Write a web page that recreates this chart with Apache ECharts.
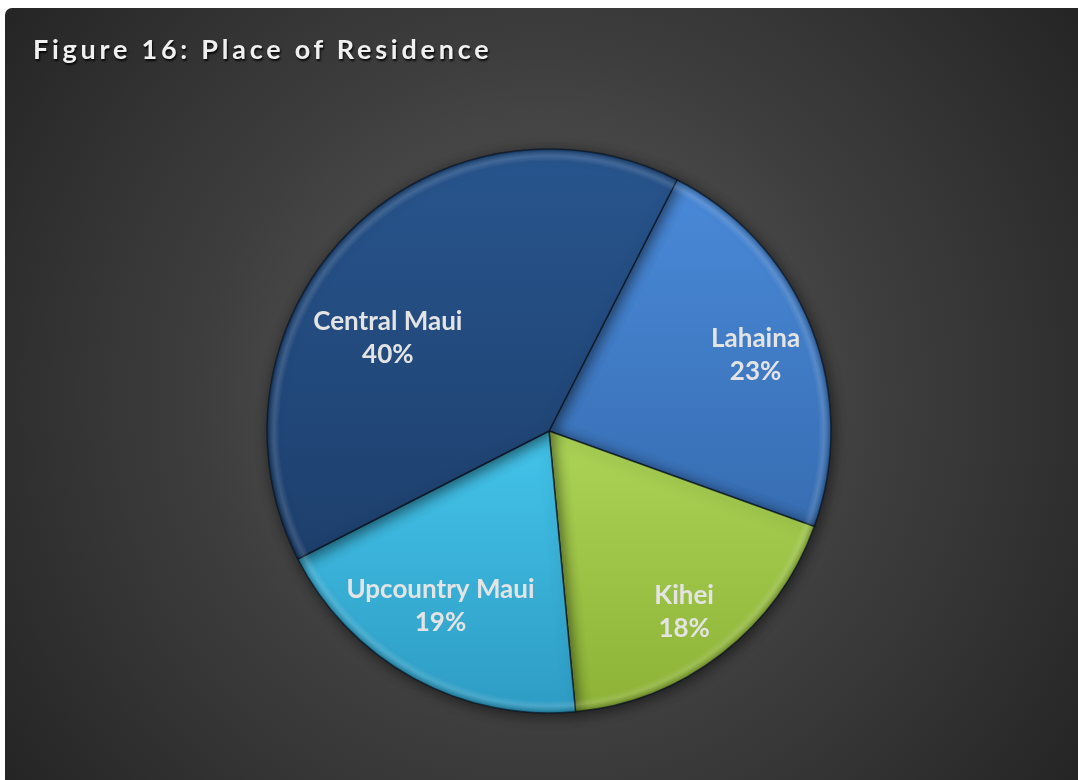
<!DOCTYPE html>
<html>
<head>
<meta charset="utf-8">
<title>Figure 16: Place of Residence</title>
<script src="https://cdn.jsdelivr.net/npm/echarts@6/dist/echarts.min.js"></script>
<style>
  html, body { margin: 0; padding: 0; background: #ffffff; }
  #wrap { position: relative; width: 1078px; height: 780px; }
  #chart { position: absolute; left: 0; top: 0; width: 1078px; height: 780px; }
  #title {
    position: absolute; left: 33px; top: 35px;
    font-family: Lato, "Open Sans", sans-serif; font-weight: bold;
    font-size: 27px; line-height: 27px; letter-spacing: 3.75px;
    color: #f0f0f0; text-shadow: 1px 2px 2px rgba(0,0,0,0.85);
    white-space: nowrap; pointer-events: none;
  }
</style>
</head>
<body>
<div id="wrap">
  <div id="chart"></div>
  <div id="title">Figure 16: Place of Residence</div>
</div>
<script>
// Place of residence shares (percent), clockwise from the Lahaina slice
const categories = ['Lahaina', 'Kihei', 'Upcountry Maui', 'Central Maui'];
const shares = [23, 18, 19, 40];

// Slice colours: [top, bottom] of each slice's vertical gradient
const sliceColors = {
  'Lahaina':        ['#4a8ad9', '#376db2'],
  'Kihei':          ['#acd457', '#8db236'],
  'Upcountry Maui': ['#44c4ea', '#2e9cc4'],
  'Central Maui':   ['#28558e', '#1d3f6c']
};

// Pie geometry (pixels)
const CX = 549, CY = 431, R = 282;
const START_ANGLE = 63;                 // ECharts: degrees counter-clockwise from 3 o'clock
const FROM_TOP = 90 - START_ANGLE;      // same angle measured clockwise from 12 o'clock

// Label placement inside each slice: fraction of radius and angular nudge (deg)
const labelPlace = {
  'Lahaina':        { r: 0.78, da: 1.5 },
  'Kihei':          { r: 0.80, da: 1 },
  'Upcountry Maui': { r: 0.73, da: 3 },
  'Central Maui':   { r: 0.66, da: -15 }
};

const total = shares.reduce((a, b) => a + b, 0);

function midAngle(i) {
  let before = 0;
  for (let j = 0; j < i; j++) before += shares[j];
  return FROM_TOP + (before + shares[i] / 2) / total * 360;
}

const chart = echarts.init(document.getElementById('chart'), null, { renderer: 'canvas' });

const pieData = categories.map((name, i) => ({
  name: name,
  value: shares[i],
  itemStyle: {
    color: new echarts.graphic.LinearGradient(0, 0, 0, 1, [
      { offset: 0, color: sliceColors[name][0] },
      { offset: 1, color: sliceColors[name][1] }
    ])
  }
}));

const option = {
  backgroundColor: '#ffffff',
  animation: false,
  graphic: [{
    type: 'rect',
    silent: true,
    z: -10,
    shape: { x: 5, y: 8, width: 1073, height: 772, r: [7, 0, 0, 0] },
    style: {
      fill: new echarts.graphic.RadialGradient(0.5, 0.5, 0.9, [
        { offset: 0, color: '#515151' },
        { offset: 0.4, color: '#444444' },
        { offset: 0.5, color: '#3d3d3d' },
        { offset: 0.62, color: '#373737' },
        { offset: 1, color: '#222222' }
      ])
    }
  }],
  series: [
    {
      type: 'pie',
      center: [CX, CY],
      radius: [0, R],
      startAngle: START_ANGLE,
      clockwise: true,
      avoidLabelOverlap: false,
      itemStyle: {
        borderColor: 'rgba(10,20,35,0.75)',
        borderWidth: 1.5,
        shadowBlur: 14,
        shadowColor: 'rgba(0,0,0,0.55)',
        shadowOffsetX: 2,
        shadowOffsetY: 3
      },
      label: {
        show: true,
        position: 'inside',
        formatter: '{b}\n{c}%',
        color: '#e4e4e4',
        fontFamily: 'Lato',
        fontWeight: 'bold',
        fontSize: 26,
        lineHeight: 33,
        align: 'center'
      },
      labelLine: { show: false },
      labelLayout: function (p) {
        const name = categories[p.dataIndex];
        const place = labelPlace[name];
        const a = (midAngle(p.dataIndex) + place.da) * Math.PI / 180;
        const rr = R * place.r;
        return {
          x: CX + rr * Math.sin(a),
          y: CY - rr * Math.cos(a),
          align: 'center',
          verticalAlign: 'middle'
        };
      },
      emphasis: { disabled: true },
      data: pieData
    },
    {
      // bevel rim along the outer edge of the pie
      type: 'pie',
      silent: true,
      center: [CX, CY],
      radius: [R - 12, R - 0.5],
      startAngle: START_ANGLE,
      clockwise: true,
      label: { show: false },
      labelLine: { show: false },
      emphasis: { disabled: true },
      itemStyle: {
        color: new echarts.graphic.RadialGradient(CX, CY, R, [
          { offset: 0, color: 'rgba(255,255,255,0)' },
          { offset: 0.955, color: 'rgba(255,255,255,0)' },
          { offset: 0.975, color: 'rgba(255,255,255,0.13)' },
          { offset: 0.995, color: 'rgba(0,0,0,0.18)' },
          { offset: 1, color: 'rgba(0,0,0,0.35)' }
        ], true)
      },
      data: shares.map((v, i) => ({ name: categories[i], value: v }))
    }
  ]
};

chart.setOption(option);
</script>
</body>
</html>
